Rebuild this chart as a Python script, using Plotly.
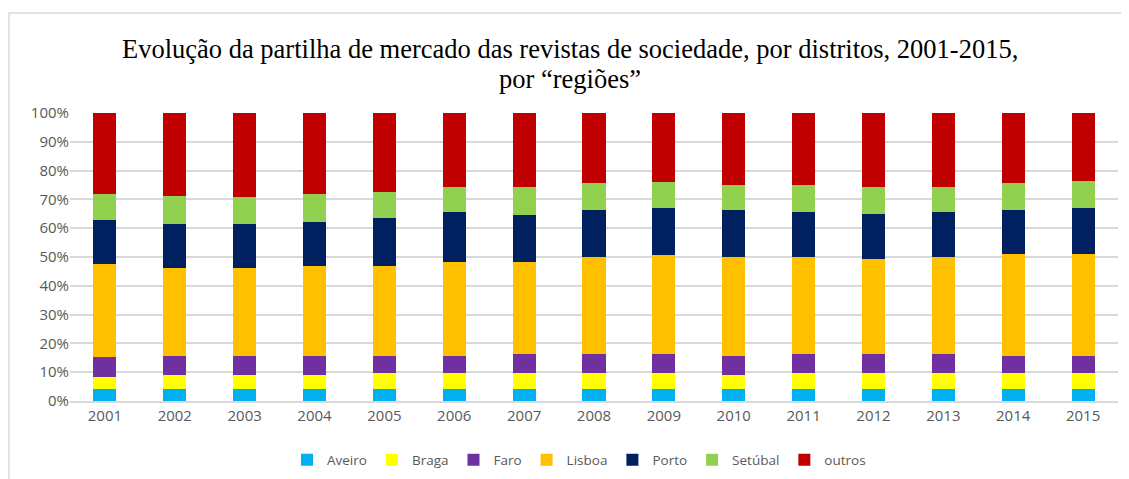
import plotly.graph_objects as go

years = [str(y) for y in range(2001, 2016)]

# segment shares (%)
aveiro  = [4.3, 4.3, 4.3, 4.3, 4.3, 4.3, 4.3, 4.3, 4.3, 4.3, 4.3, 4.3, 4.3, 4.3, 4.3]
braga   = [4.2, 4.8, 4.8, 4.8, 5.4, 5.4, 5.4, 5.4, 5.4, 4.8, 5.4, 5.4, 5.4, 5.4, 5.4]
faro    = [6.7, 6.6, 6.6, 6.6, 6.0, 6.0, 6.7, 6.7, 6.7, 6.6, 6.7, 6.7, 6.7, 6.0, 6.0]
lisboa  = [32.4, 30.6, 30.6, 31.3, 31.3, 32.4, 31.7, 33.6, 34.2, 34.3, 33.6, 32.9, 33.6, 35.5, 35.5]
porto   = [15.1, 15.1, 15.1, 15.1, 16.4, 17.6, 16.4, 16.3, 16.4, 16.3, 15.7, 15.8, 15.7, 15.1, 15.8]
setubal = [9.2, 9.9, 9.3, 9.8, 9.2, 8.6, 9.8, 9.3, 9.2, 8.7, 9.3, 9.2, 8.6, 9.3, 9.3]
outros  = [28.1, 28.7, 29.3, 28.1, 27.4, 25.7, 25.7, 24.4, 23.8, 25.0, 25.0, 25.7, 25.7, 24.4, 23.7]

names = ["Aveiro", "Braga", "Faro", "Lisboa", "Porto", "Setúbal", "outros"]
values = [aveiro, braga, faro, lisboa, porto, setubal, outros]
colors = ["#00B0F0", "#FFFF00", "#7030A0", "#FFC000", "#002060", "#92D050", "#C00000"]

title_line1 = "Evolução da partilha de mercado das revistas de sociedade, por distritos, 2001-2015,"
title_line2 = "por “regiões”"

fig = go.Figure()
for name, vals, col in zip(names, values, colors):
    fig.add_trace(go.Bar(x=years, y=vals, name=name,
                         marker=dict(color=col, line=dict(width=0))))

# figure is placed at an 8px body offset in the page
W, H = 1121, 471
L, R, T, B = 62, 11, 105, 78
pw, ph = W - L - R, H - T - B
serif = "Liberation Serif, Times New Roman, serif"

fig.update_layout(
    barmode="stack",
    barnorm="percent",
    bargap=0.67,
    width=W, height=H,
    margin=dict(l=L, r=R, t=T, b=B, autoexpand=False),
    paper_bgcolor="white", plot_bgcolor="white",
    font=dict(family="Open Sans, Liberation Sans, sans-serif", size=15, color="#595959"),
    xaxis=dict(showgrid=False, showline=True, linecolor="#d9d9d9", linewidth=1.5,
               ticks="", tickfont=dict(size=15, color="#595959")),
    yaxis=dict(range=[0, 100], dtick=10, ticksuffix="%", showgrid=True, gridcolor="#d9d9d9",
               gridwidth=1.5, zeroline=False, ticks="", tickfont=dict(size=15, color="#595959")),
    legend=dict(orientation="h", x=(571 - L) / pw, xanchor="center",
                y=(ph + T - 452) / ph, yanchor="middle",
                font=dict(size=13.5, color="#595959"), traceorder="normal", itemwidth=30),
    annotations=[
        dict(text=title_line1, xref="paper", yref="paper", showarrow=False,
             x=(562 - L) / pw, y=(ph + T - 41) / ph, xanchor="center", yanchor="middle",
             font=dict(family=serif, size=26.5, color="#000000")),
        dict(text=title_line2, xref="paper", yref="paper", showarrow=False,
             x=(562 - L) / pw, y=(ph + T - 71) / ph, xanchor="center", yanchor="middle",
             font=dict(family=serif, size=26.5, color="#000000")),
    ],
    shapes=[dict(type="rect", xref="paper", yref="paper",
                 x0=(1 - L) / pw, x1=1.05, y0=-0.4, y1=(ph + T - 5) / ph,
                 line=dict(color="#d9d9d9", width=1.5), fillcolor="rgba(0,0,0,0)",
                 layer="below")],
)

fig.write_html("out.html")
